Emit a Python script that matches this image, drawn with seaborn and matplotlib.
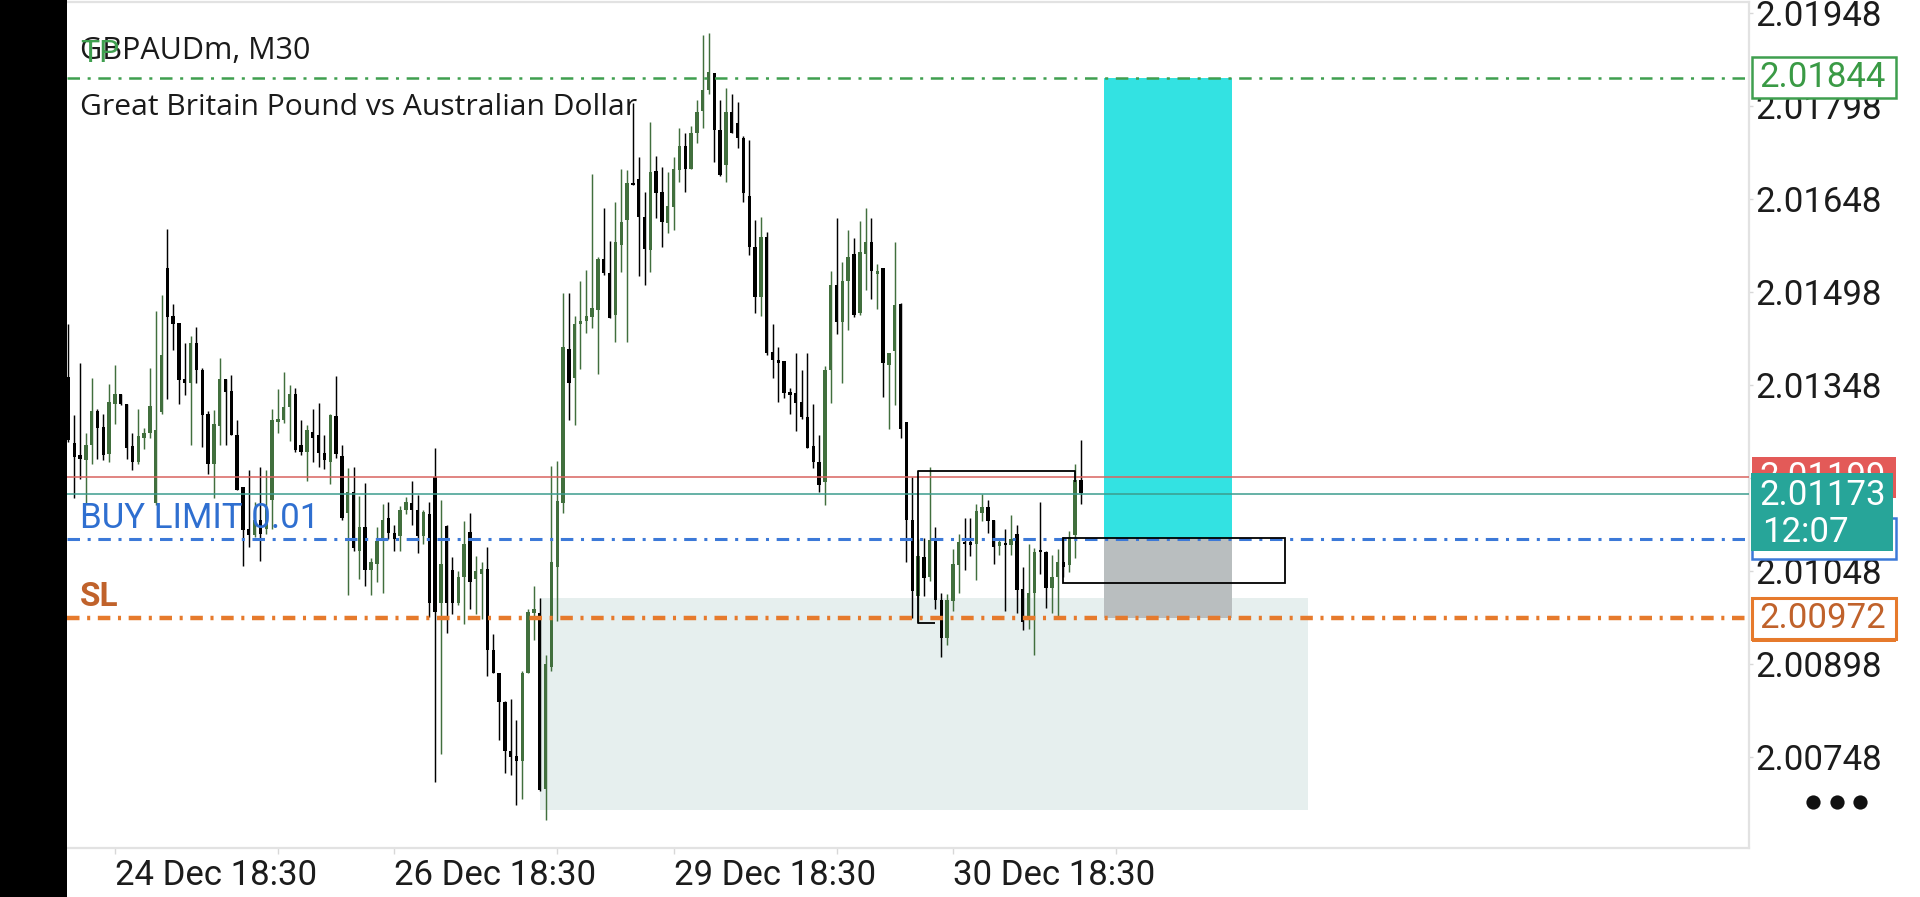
import numpy as np
import pandas as pd
import matplotlib
matplotlib.use("Agg")
import matplotlib.pyplot as plt
import seaborn as sns
from matplotlib.patches import Rectangle
from matplotlib import transforms

# ---------------- data (GBPAUDm, M30) ----------------
bar_no = list(range(175))
open_p = [2.01361, 2.01255, 2.01235, 2.01227, 2.01251, 2.01306, 2.01280, 2.01237, 2.01317, 2.01333,
          2.01317, 2.01250, 2.01224, 2.01263, 2.01270, 2.01157, 2.01304, 2.01537, 2.01459, 2.01448,
          2.01357, 2.01351, 2.01415, 2.01373, 2.01302, 2.01221, 2.01282, 2.01357, 2.01338, 2.01268,
          2.01184, 2.01116, 2.01106, 2.01130, 2.01116, 2.01162, 2.01289, 2.01291, 2.01313, 2.01333,
          2.01251, 2.01240, 2.01273, 2.01267, 2.01239, 2.01224, 2.01298, 2.01233, 2.01142, 2.01176,
          2.01081, 2.01119, 2.01049, 2.01060, 2.01096, 2.01134, 2.01110, 2.01104, 2.01146, 2.01157,
          2.01146, 2.01104, 2.01140, 2.01199, 2.00997, 2.01120, 2.01049, 2.00997, 2.01039, 2.01111,
          2.01035, 2.01044, 2.01051, 2.00921, 2.00883, 2.00837, 2.00757, 2.00750, 2.00742, 2.00883,
          2.00980, 2.00980, 2.00696, 2.00894, 2.01054, 2.01157, 2.01406, 2.01359, 2.01447, 2.01451,
          2.01458, 2.01469, 2.01552, 2.01528, 2.01461, 2.01574, 2.01614, 2.01674, 2.01680, 2.01619,
          2.01566, 2.01693, 2.01660, 2.01609, 2.01635, 2.01695, 2.01733, 2.01697, 2.01754, 2.01790,
          2.01824, 2.01851, 2.01760, 2.01703, 2.01789, 2.01770, 2.01747, 2.01653, 2.01571, 2.01490,
          2.01586, 2.01402, 2.01388, 2.01386, 2.01337, 2.01335, 2.01321, 2.01297, 2.01249, 2.01224,
          2.01192, 2.01372, 2.01509, 2.01449, 2.01516, 2.01560, 2.01464, 2.01560, 2.01578, 2.01527,
          2.01536, 2.01380, 2.01403, 2.01479, 2.01288, 2.01130, 2.01008, 2.01071, 2.01039, 2.01099,
          2.01002, 2.00940, 2.00999, 2.01058, 2.01095, 2.01095, 2.01092, 2.01141, 2.01151, 2.01130,
          2.01088, 2.01093, 2.01090, 2.01107, 2.01019, 2.00969, 2.01012, 2.01082, 2.01079, 2.01020,
          2.01038, 2.01062, 2.01058, 2.01106, 2.01195]
high_p = [2.01447, 2.01299, 2.01383, 2.01270, 2.01360, 2.01310, 2.01301, 2.01349, 2.01381, 2.01334,
          2.01318, 2.01270, 2.01309, 2.01278, 2.01375, 2.01467, 2.01493, 2.01599, 2.01479, 2.01448,
          2.01415, 2.01427, 2.01442, 2.01375, 2.01306, 2.01308, 2.01392, 2.01357, 2.01364, 2.01292,
          2.01184, 2.01211, 2.01159, 2.01216, 2.01211, 2.01310, 2.01341, 2.01369, 2.01348, 2.01343,
          2.01291, 2.01283, 2.01309, 2.01319, 2.01267, 2.01302, 2.01363, 2.01252, 2.01214, 2.01216,
          2.01169, 2.01190, 2.01069, 2.01119, 2.01156, 2.01159, 2.01123, 2.01153, 2.01167, 2.01193,
          2.01170, 2.01146, 2.01159, 2.01246, 2.01162, 2.01123, 2.01071, 2.01048, 2.01128, 2.01142,
          2.01072, 2.01063, 2.01086, 2.00946, 2.00883, 2.00839, 2.00841, 2.00807, 2.00887, 2.00986,
          2.01024, 2.01005, 2.00913, 2.01218, 2.01226, 2.01496, 2.01496, 2.01460, 2.01515, 2.01533,
          2.01688, 2.01554, 2.01633, 2.01580, 2.01644, 2.01697, 2.01695, 2.01803, 2.01715, 2.01660,
          2.01773, 2.01717, 2.01700, 2.01692, 2.01715, 2.01762, 2.01755, 2.01766, 2.01808, 2.01912,
          2.01916, 2.01851, 2.01808, 2.01827, 2.01818, 2.01805, 2.01749, 2.01743, 2.01614, 2.01619,
          2.01595, 2.01447, 2.01410, 2.01386, 2.01343, 2.01399, 2.01372, 2.01399, 2.01318, 2.01267,
          2.01379, 2.01532, 2.01617, 2.01547, 2.01598, 2.01585, 2.01612, 2.01633, 2.01617, 2.01544,
          2.01537, 2.01399, 2.01578, 2.01480, 2.01288, 2.01199, 2.01100, 2.01102, 2.01215, 2.01119,
          2.01012, 2.01011, 2.01083, 2.01107, 2.01133, 2.01134, 2.01156, 2.01172, 2.01163, 2.01130,
          2.01099, 2.01115, 2.01138, 2.01122, 2.01054, 2.01091, 2.01085, 2.01160, 2.01081, 2.01074,
          2.01083, 2.01103, 2.01112, 2.01221, 2.01259]
low_p = [2.01256, 2.01165, 2.01196, 2.01157, 2.01221, 2.01228, 2.01227, 2.01224, 2.01285, 2.01315,
         2.01229, 2.01211, 2.01221, 2.01245, 2.01262, 2.01154, 2.01302, 2.01326, 2.01404, 2.01318,
         2.01332, 2.01252, 2.01351, 2.01248, 2.01205, 2.01166, 2.01251, 2.01251, 2.01267, 2.01179,
         2.01056, 2.01087, 2.01103, 2.01064, 2.01108, 2.01116, 2.01270, 2.01286, 2.01258, 2.01240,
         2.01235, 2.01194, 2.01224, 2.01216, 2.01213, 2.01189, 2.01230, 2.01130, 2.01009, 2.01081,
         2.01035, 2.01024, 2.01009, 2.01031, 2.01012, 2.01100, 2.01081, 2.01081, 2.01140, 2.01123,
         2.01077, 2.01092, 2.00974, 2.00708, 2.00753, 2.00948, 2.00978, 2.00993, 2.00963, 2.00986,
         2.00978, 2.00970, 2.00879, 2.00883, 2.00776, 2.00723, 2.00719, 2.00670, 2.00681, 2.00883,
         2.00936, 2.00693, 2.00647, 2.00887, 2.00967, 2.01142, 2.01291, 2.01283, 2.01374, 2.01432,
         2.01440, 2.01366, 2.01525, 2.01456, 2.01418, 2.01531, 2.01418, 2.01671, 2.01524, 2.01509,
         2.01531, 2.01617, 2.01570, 2.01594, 2.01598, 2.01676, 2.01660, 2.01696, 2.01739, 2.01762,
         2.01818, 2.01708, 2.01685, 2.01676, 2.01754, 2.01730, 2.01644, 2.01558, 2.01464, 2.01459,
         2.01396, 2.01359, 2.01321, 2.01327, 2.01302, 2.01274, 2.01294, 2.01247, 2.01214, 2.01176,
         2.01154, 2.01319, 2.01431, 2.01351, 2.01437, 2.01458, 2.01461, 2.01502, 2.01486, 2.01470,
         2.01328, 2.01277, 2.01316, 2.01262, 2.01063, 2.00972, 2.00964, 2.01008, 2.01032, 2.00986,
         2.00910, 2.00929, 2.00983, 2.01012, 2.01050, 2.01072, 2.01034, 2.01128, 2.01110, 2.01060,
         2.01074, 2.00984, 2.01074, 2.00981, 2.00953, 2.00954, 2.00913, 2.01044, 2.00988, 2.00980,
         2.00976, 2.01039, 2.01047, 2.01069, 2.01156]
close_p = [2.01259, 2.01232, 2.01229, 2.01251, 2.01306, 2.01279, 2.01235, 2.01321, 2.01333, 2.01317,
           2.01247, 2.01224, 2.01266, 2.01271, 2.01314, 2.01275, 2.01396, 2.01457, 2.01446, 2.01356,
           2.01351, 2.01415, 2.01372, 2.01299, 2.01221, 2.01285, 2.01357, 2.01337, 2.01267, 2.01179,
           2.01114, 2.01106, 2.01130, 2.01108, 2.01150, 2.01291, 2.01294, 2.01313, 2.01334, 2.01243,
           2.01240, 2.01275, 2.01262, 2.01239, 2.01227, 2.01299, 2.01237, 2.01134, 2.01176, 2.01085,
           2.01119, 2.01050, 2.01062, 2.01096, 2.01130, 2.01110, 2.01100, 2.01146, 2.01159, 2.01146,
           2.01104, 2.01144, 2.00997, 2.00982, 2.01060, 2.00997, 2.00997, 2.01039, 2.01092, 2.01031,
           2.01048, 2.01052, 2.00921, 2.00883, 2.00837, 2.00757, 2.00748, 2.00742, 2.00883, 2.00982,
           2.00986, 2.00695, 2.00898, 2.01062, 2.01161, 2.01409, 2.01351, 2.01447, 2.01452, 2.01460,
           2.01473, 2.01552, 2.01528, 2.01456, 2.01579, 2.01611, 2.01674, 2.01671, 2.01619, 2.01568,
           2.01692, 2.01657, 2.01611, 2.01636, 2.01697, 2.01733, 2.01697, 2.01754, 2.01789, 2.01824,
           2.01853, 2.01760, 2.01687, 2.01789, 2.01754, 2.01747, 2.01657, 2.01571, 2.01490, 2.01586,
           2.01399, 2.01388, 2.01383, 2.01335, 2.01332, 2.01319, 2.01296, 2.01247, 2.01224, 2.01187,
           2.01372, 2.01509, 2.01449, 2.01516, 2.01555, 2.01461, 2.01562, 2.01579, 2.01532, 2.01532,
           2.01384, 2.01399, 2.01477, 2.01277, 2.01130, 2.01015, 2.01072, 2.01036, 2.01098, 2.01002,
           2.00940, 2.01001, 2.01059, 2.01094, 2.01092, 2.01090, 2.01145, 2.01152, 2.01129, 2.01086,
           2.01095, 2.01090, 2.01099, 2.01017, 2.00966, 2.01012, 2.01079, 2.01078, 2.01020, 2.01039,
           2.01062, 2.01054, 2.01103, 2.01195, 2.01174]

x_tick_bars = [8, 56, 104, 152]
x_tick_labels = ["24 Dec 18:30", "26 Dec 18:30", "29 Dec 18:30", "30 Dec 18:30"]
x_minor_bars = [36, 84, 132, 180]
y_ticks = [2.00748, 2.00898, 2.01048, 2.01198, 2.01348, 2.01498, 2.01648, 2.01798, 2.01948]

tp_level = 2.01844
ask_level = 2.01199
bid_level = 2.01173
buy_limit_level = 2.01100
sl_level = 2.00972
timer_text = "12:07"

# drawn objects (bar index / price)
position_bars = (178, 200)
zone_bars = (81, 213)
zone_prices = (2.00663, 2.01005)
box_bars = (171, 209)
box_prices = (2.01029, 2.01101)
bracket_bars = [149, 146, 146, 173, 173]
bracket_prices = [2.00964, 2.00964, 2.01209, 2.01209, 2.01192]

df = pd.DataFrame({"bar": bar_no, "open": open_p, "high": high_p,
                   "low": low_p, "close": close_p})
df["bull"] = df["close"] >= df["open"]

# ---------------- style ----------------
sns.set_theme(style="white")
plt.rcParams["font.family"] = ["Roboto", "DejaVu Sans"]
plt.rcParams["lines.scale_dashes"] = False

W, H = 1920, 897
fig = plt.figure(figsize=(W / 100, H / 100), dpi=100, facecolor="white")
ax_l, ax_r, ax_t, ax_b = 67, 1749, 2, 848
ax = fig.add_axes([ax_l / W, 1 - ax_b / H, (ax_r - ax_l) / W, (ax_b - ax_t) / H])
ax.set_facecolor("white")

px_per_price = 62000.0
y_top = 2.01969 - ax_t / px_per_price
y_bot = 2.01969 - ax_b / px_per_price
ax.set_ylim(y_bot, y_top)
ax.set_xlim(-0.24, 288.8)

# black strip on the left
fig.patches.append(Rectangle((0, 0), ax_l / W, 1, transform=fig.transFigure,
                             facecolor="black", edgecolor="none", zorder=0))

up_col = "#416f3d"
dn_col = "#000000"
colors = np.where(df["bull"], up_col, dn_col)

# light zone rectangle
ax.add_patch(Rectangle((zone_bars[0], zone_prices[0]), zone_bars[1] - zone_bars[0],
                       zone_prices[1] - zone_prices[0], facecolor="#e6efee",
                       edgecolor="none", zorder=1))

# position tool: TP zone and SL zone
ax.add_patch(Rectangle((position_bars[0], buy_limit_level), position_bars[1] - position_bars[0],
                       tp_level - buy_limit_level, facecolor="#33e2e2", edgecolor="none", zorder=1.2))
ax.add_patch(Rectangle((position_bars[0], sl_level), position_bars[1] - position_bars[0],
                       buy_limit_level - sl_level, facecolor="#b9bebf", edgecolor="none", zorder=1.2))

# candles
ax.vlines(df["bar"], df["low"], df["high"], colors=colors, linewidth=1.05, zorder=3)
body_low = np.minimum(df["open"], df["close"])
body_h = np.maximum(np.abs(df["close"] - df["open"]), 1.8e-5)
ax.bar(df["bar"], body_h, bottom=body_low, width=0.58, color=colors, linewidth=0, zorder=3.1)

# level lines
dashdot = (0, (9, 5.5, 2.2, 5.5))
ax.axhline(tp_level, color="#3f9f4f", lw=1.8, ls=dashdot, zorder=4)
ax.axhline(ask_level, color="#d9635f", lw=1.1, zorder=4)
ax.axhline(bid_level, color="#3c9c8e", lw=1.1, zorder=4)
ax.axhline(buy_limit_level, color="#3c79d8", lw=2.2, ls=dashdot, zorder=4)
ax.axhline(sl_level, color="#e67a2c", lw=3.2, ls=dashdot, zorder=4)

# black objects
ax.plot(bracket_bars, bracket_prices, color="black", lw=1.3, zorder=5, solid_capstyle="butt")
ax.add_patch(Rectangle((box_bars[0], box_prices[0]), box_bars[1] - box_bars[0],
                       box_prices[1] - box_prices[0], facecolor="none",
                       edgecolor="black", lw=1.3, zorder=5))

# chart titles
tl = transforms.blended_transform_factory(ax.transAxes, ax.transData)
lx = (80 - ax_l) / (ax_r - ax_l)
ax.text(lx, 0.9425, "GBPAUDm, M30", fontsize=22, color="#1a1a1a", va="center", ha="left",
        transform=ax.transAxes, family=["Open Sans", "DejaVu Sans"], zorder=6)
ax.text(lx, 0.8755, "Great Britain Pound vs Australian Dollar", fontsize=21.6, color="#1a1a1a",
        va="center", ha="left", transform=ax.transAxes, family=["Open Sans", "DejaVu Sans"],
        zorder=6)

# line labels
ax.text(lx, 2.01883, "TP", color="#3f9f4f", fontsize=23, va="center", ha="left",
        transform=tl, zorder=6.5)
ax.text(lx, 2.01133, "BUY LIMIT 0.01", color="#2f6fd0", fontsize=25, va="center",
        ha="left", transform=tl, zorder=6)
ax.text(lx, 2.01006, "SL", color="#c0622b", fontsize=24, fontweight="bold",
        va="center", ha="left", transform=tl, zorder=6)

# axes
ax.spines["left"].set_visible(False)
for s in ["top", "right", "bottom"]:
    ax.spines[s].set_visible(True)
    ax.spines[s].set_color("#e2e2e2")
    ax.spines[s].set_linewidth(1.6)

ax.yaxis.tick_right()
ax.set_yticks(y_ticks)
ax.set_yticklabels([f"{v:.5f}" for v in y_ticks])
ax.tick_params(axis="y", which="both", right=True, left=False, length=3, width=1,
               color="#d8d8d8", pad=1.5, labelsize=25, labelcolor="#1c1c1c")

ax.set_xticks(x_tick_bars)
ax.set_xticklabels(x_tick_labels)
ax.set_xticks(x_minor_bars, minor=True)
ax.tick_params(axis="x", which="both", bottom=True, length=4, width=1, color="#d8d8d8",
               pad=4, labelsize=25, labelcolor="#1c1c1c")
for lab in ax.get_xticklabels():
    lab.set_horizontalalignment("left")
ax.grid(False)

# price tags on the right
tt = transforms.blended_transform_factory(fig.transFigure, ax.transData)
tag_x0, tag_w = 1752 / W, 144 / W
tag_cx = 1823 / W
half = 20.5 / px_per_price


def tag(level, edge, face, text, tcolor, lw=1.8, z=10):
    ax.add_patch(Rectangle((tag_x0, level - half), tag_w, 2 * half, transform=tt,
                           facecolor=face, edgecolor=edge, lw=lw, clip_on=False, zorder=z))
    ax.text(tag_cx, level, text, transform=tt, color=tcolor, fontsize=25, ha="center",
            va="center", clip_on=False, zorder=z + 0.1)


tag(tp_level, "#3f9f4f", "white", f"{tp_level:.5f}", "#3a9a45")
tag(sl_level, "#e67a2c", "white", f"{sl_level:.5f}", "#c0622b", lw=2.2)
ax.add_patch(Rectangle((tag_x0, sl_level - half - 3 / px_per_price), tag_w, 4 / px_per_price,
                       transform=tt, facecolor="#e67a2c", edgecolor="none", clip_on=False, zorder=10.2))
tag(buy_limit_level, "#3c79d8", "white", f"{buy_limit_level:.5f}", "#3c79d8", z=11)
tag(ask_level, "#e35a58", "#e35a58", f"{ask_level:.5f}", "white", lw=0, z=12)

# current bid box with timer
box_top = bid_level + 21 / px_per_price
box_bot = bid_level - 57 / px_per_price
ax.add_patch(Rectangle((1751 / W, box_bot), 142 / W, box_top - box_bot, transform=tt,
                       facecolor="#27a599", edgecolor="none", clip_on=False, zorder=13))
ax.text(tag_cx, bid_level - 2 / px_per_price, f"{bid_level:.5f}", transform=tt, color="white",
        fontsize=25, ha="center", va="center", clip_on=False, zorder=13.1)
ax.text(1762 / W, bid_level - 39 / px_per_price, timer_text, transform=tt, color="white",
        fontsize=25, ha="left", va="center", clip_on=False, zorder=13.1)

# menu dots
dots_y = 2.01969 - 802 / px_per_price
ax.scatter([1813 / W, 1836.5 / W, 1860 / W], [dots_y] * 3, s=105, color="#111111",
           transform=tt, clip_on=False, zorder=10, linewidths=0)

fig.savefig("out.png", dpi=100, facecolor="white")
